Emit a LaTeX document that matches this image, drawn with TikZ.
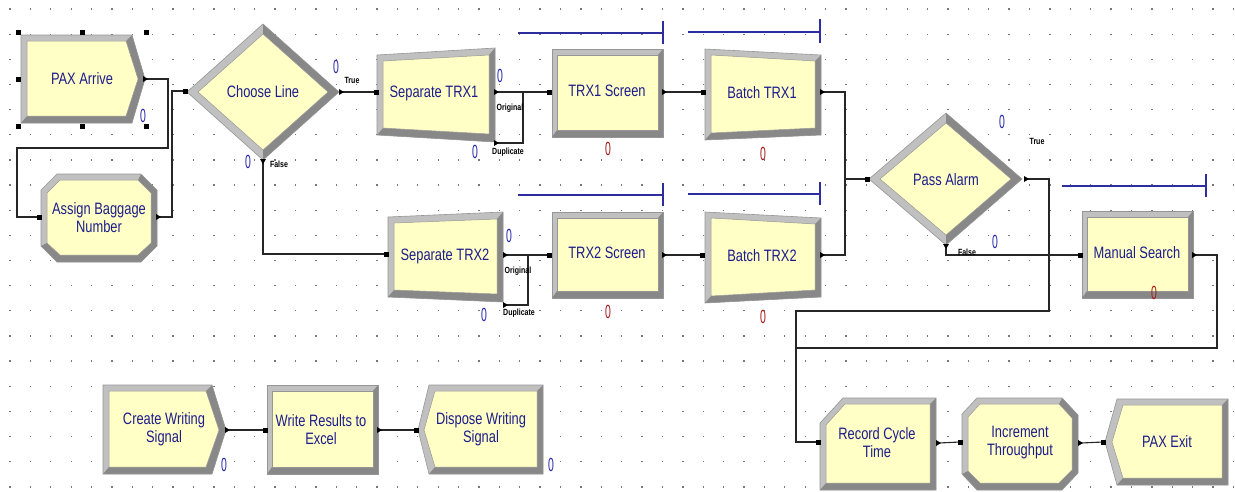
\documentclass[tikz,border=0pt]{standalone}
\usepackage{fontspec}
\setmainfont{Liberation Sans}
\newfontfamily\arenaf[FakeStretch=0.78]{Liberation Sans}
\newfontfamily\cntf[FakeStretch=0.55]{Liberation Sans}
\newfontfamily\smallf[FakeStretch=0.78]{Liberation Sans}
\definecolor{modY}{RGB}{255,255,198}
\definecolor{bevL}{RGB}{192,192,192}
\definecolor{bevD}{RGB}{136,136,136}
\definecolor{edgeC}{RGB}{150,150,150}
\definecolor{txtB}{RGB}{28,28,140}
\definecolor{cntBlue}{RGB}{40,40,170}
\definecolor{cntRed}{RGB}{165,25,25}
\definecolor{qline}{RGB}{45,45,160}
\definecolor{dotc}{RGB}{120,120,120}
\tikzset{
  modtext/.style={text=txtB, font=\arenaf\fontsize{16.5}{18}\selectfont, align=center, inner sep=0pt},
  cntblue/.style={text=cntBlue, font=\cntf\fontsize{19}{19}\selectfont, inner sep=0pt},
  cntred/.style={text=cntRed, font=\cntf\fontsize{19}{19}\selectfont, inner sep=0pt},
  portlbl/.style={text=black, font=\smallf\bfseries\fontsize{9}{9}\selectfont, inner sep=0pt},
  conn/.style={line width=1.1pt, draw=black!85},
  queue/.style={line width=1.3pt, draw=qline},
}
\newcommand\bevpoly[3]{%
  \fill[bevL] #1 -- cycle;
  \fill[bevD] #2 -- cycle;
  \filldraw[fill=modY,draw=edgeC,line width=0.5pt] #3 -- cycle;
  \draw[edgeC,line width=0.6pt] #1 -- cycle;}
\newcommand\procbox[4]{%
  \fill[bevL] (#1,#2) rectangle (#3,#4);
  \fill[bevD] (#1,#4) -- (#3,#4) -- (#3,#2) -- ({#3-5},{#2+6}) -- ({#3-5},{#4-7}) -- ({#1+5},{#4-7}) -- cycle;
  \filldraw[fill=modY,draw=edgeC,line width=0.5pt] ({#1+5},{#2+6}) rectangle ({#3-5},{#4-7});
  \draw[edgeC,line width=0.6pt] (#1,#2) rectangle (#3,#4);}
\newcommand\entrymark[1]{\fill[black,shift={(#1)}] (-2.5,-2.5) rectangle (2.5,2.5);}
\newcommand\exitR[1]{\fill[black,shift={(#1)}] (-3,-3) -- (2,0) -- (-3,3) -- cycle;}
\newcommand\exitD[1]{\fill[black,shift={(#1)}] (-3,-3) -- (0,2) -- (3,-3) -- cycle;}
\newcommand\handle[2]{\fill[black] ({#1-2.5},{#2-2.5}) rectangle ++(5,5);}
\begin{document}
\begin{tikzpicture}[x=1pt,y=-1pt]
\useasboundingbox (0,0) rectangle (1235,491);
\fill[white] (0,0) rectangle (1235,491);
% grid dots
\foreach \i in {0,...,60}{\foreach \j in {0,...,19}{
  \fill[dotc] ({10+20.39*\i-0.65},{9+25.15*\j-0.65}) rectangle ++(1.3,1.3);}}

% ---------- modules ----------
% PAX Arrive (create)
\bevpoly{(21,35) -- (132,35) -- (145,79) -- (132,123) -- (21,123)}
        {(21,123) -- (132,123) -- (145,79) -- (132,35) -- (126,41) -- (138,79) -- (126,116) -- (27,116)}
        {(27,41) -- (126,41) -- (138,79) -- (126,116) -- (27,116)}
\node[modtext] (paxarrive) at (82,79) {PAX Arrive};
\handle{18}{32}\handle{82}{32}\handle{146}{32}\handle{18}{79}
\handle{18}{126}\handle{82}{126}\handle{146}{126}

% Assign Baggage Number
\bevpoly{(57,174) -- (141,174) -- (157,190) -- (157,246) -- (141,262) -- (57,262) -- (41,246) -- (41,190)}
        {(141,174) -- (157,190) -- (157,246) -- (141,262) -- (57,262) -- (41,246) -- (47,243) -- (60,255) -- (138,255) -- (151,243) -- (151,193) -- (138,180)}
        {(60,180) -- (138,180) -- (151,193) -- (151,243) -- (138,255) -- (60,255) -- (47,243) -- (47,193)}
\node[modtext] (assign) at (99,218) {Assign Baggage\\Number};

% Choose Line (decide)
\bevpoly{(187,92) -- (263,24) -- (339,92) -- (263,160)}
        {(263,24) -- (339,92) -- (263,160) -- (263,150) -- (328,92) -- (263,34)}
        {(198,92) -- (263,34) -- (328,92) -- (263,150)}
\node[modtext] (choose) at (263,92) {Choose Line};

% Separate TRX1
\bevpoly{(377,55) -- (495,48) -- (495,142) -- (377,135)}
        {(377,135) -- (495,142) -- (495,48) -- (489,55) -- (489,134) -- (383,128)}
        {(383,61) -- (489,55) -- (489,134) -- (383,128)}
\node[modtext] (sep1) at (434,93) {Separate TRX1};

% TRX1 Screen
\procbox{552}{49}{663}{137}
\node[modtext] (scr1) at (607,91) {TRX1 Screen};

% Batch TRX1
\bevpoly{(705,49) -- (821,55) -- (821,135) -- (705,140)}
        {(705,140) -- (821,135) -- (821,55) -- (815,61) -- (815,128) -- (711,133)}
        {(711,55) -- (815,61) -- (815,128) -- (711,133)}
\node[modtext] (bat1) at (762,93) {Batch TRX1};

% Separate TRX2
\bevpoly{(388,217) -- (503,212) -- (503,302) -- (388,297)}
        {(388,297) -- (503,302) -- (503,212) -- (497,219) -- (497,294) -- (394,290)}
        {(394,223) -- (497,219) -- (497,294) -- (394,290)}
\node[modtext] (sep2) at (445,256) {Separate TRX2};

% TRX2 Screen
\procbox{552}{212}{663}{298}
\node[modtext] (scr2) at (607,253) {TRX2 Screen};

% Batch TRX2
\bevpoly{(705,212) -- (821,218) -- (821,297) -- (705,303)}
        {(705,303) -- (821,297) -- (821,218) -- (815,224) -- (815,290) -- (711,296)}
        {(711,218) -- (815,224) -- (815,290) -- (711,296)}
\node[modtext] (bat2) at (762,256) {Batch TRX2};

% Pass Alarm (decide)
\bevpoly{(869,179) -- (946,113) -- (1022,179) -- (946,245)}
        {(946,113) -- (1022,179) -- (946,245) -- (946,235) -- (1011,179) -- (946,123)}
        {(880,179) -- (946,123) -- (1011,179) -- (946,235)}
\node[modtext] (pass) at (946,180) {Pass Alarm};

% Manual Search
\procbox{1082}{211}{1193}{298}
\node[modtext] (manual) at (1137,253) {Manual Search};

% Record Cycle Time
\bevpoly{(820,423) -- (843,398) -- (936,398) -- (936,490) -- (820,490)}
        {(820,490) -- (936,490) -- (936,398) -- (930,404) -- (930,483) -- (826,483)}
        {(826,425) -- (845,404) -- (930,404) -- (930,483) -- (826,483)}
\node[modtext] (record) at (877,443) {Record Cycle\\Time};

% Increment Throughput
\bevpoly{(977,398) -- (1062,398) -- (1078,415) -- (1078,473) -- (1062,490) -- (977,490) -- (962,474) -- (962,414)}
        {(1062,398) -- (1078,415) -- (1078,473) -- (1062,490) -- (977,490) -- (962,474) -- (968,471) -- (980,483) -- (1059,483) -- (1072,470) -- (1072,418) -- (1059,404)}
        {(980,404) -- (1059,404) -- (1072,418) -- (1072,470) -- (1059,483) -- (980,483) -- (968,471) -- (968,417)}
\node[modtext] (incr) at (1020,443) {Increment\\Throughput};

% PAX Exit (dispose)
\bevpoly{(1117,399) -- (1228,399) -- (1228,485) -- (1117,485) -- (1105,442)}
        {(1117,485) -- (1228,485) -- (1228,399) -- (1222,405) -- (1222,478) -- (1123,478)}
        {(1123,405) -- (1222,405) -- (1222,478) -- (1123,478) -- (1112,442)}
\node[modtext] (paxexit) at (1167,442) {PAX Exit};

% Create Writing Signal
\bevpoly{(103,385) -- (212,385) -- (226,430) -- (212,474) -- (103,474)}
        {(103,474) -- (212,474) -- (226,430) -- (212,385) -- (206,391) -- (219,430) -- (206,467) -- (109,467)}
        {(109,391) -- (206,391) -- (219,430) -- (206,467) -- (109,467)}
\node[modtext] (createw) at (164,429) {Create Writing\\Signal};

% Write Results to Excel
\procbox{267}{385}{378}{474}
\node[modtext] (writer) at (321,430) {Write Results to\\Excel};

% Dispose Writing Signal
\bevpoly{(429,385) -- (543,385) -- (543,474) -- (429,474) -- (418,430)}
        {(429,474) -- (543,474) -- (543,385) -- (537,391) -- (537,467) -- (435,467)}
        {(435,391) -- (537,391) -- (537,467) -- (435,467) -- (424,430)}
\node[modtext] (disposew) at (481,429) {Dispose Writing\\Signal};

% ---------- ports ----------
\coordinate (pa-out) at (146,79);
\coordinate (ab-in) at (39,217);  \coordinate (ab-out) at (159,217);
\coordinate (cl-in) at (185,91);  \coordinate (cl-t) at (342,92); \coordinate (cl-f) at (263,162);
\coordinate (s1-in) at (376,92);  \coordinate (s1-o) at (497,92); \coordinate (s1-d) at (497,143);
\coordinate (c1-in) at (549,92);  \coordinate (c1-out) at (665,92);
\coordinate (b1-in) at (703,92);  \coordinate (b1-out) at (823,92);
\coordinate (s2-in) at (386,254); \coordinate (s2-o) at (506,255); \coordinate (s2-d) at (506,305);
\coordinate (c2-in) at (549,255); \coordinate (c2-out) at (665,255);
\coordinate (b2-in) at (702,255); \coordinate (b2-out) at (823,255);
\coordinate (pa-in) at (867,179); \coordinate (pa-t) at (1027,179); \coordinate (pa-f) at (946,247);
\coordinate (ms-in) at (1080,255); \coordinate (ms-out) at (1195,255);
\coordinate (rc-in) at (818,442); \coordinate (rc-out) at (939,443);
\coordinate (it-in) at (960,442); \coordinate (it-out) at (1081,443);
\coordinate (px-in) at (1103,442);
\coordinate (cw-out) at (228,430); \coordinate (wr-in) at (265,430);
\coordinate (wr-out) at (380,430); \coordinate (dw-in) at (416,430);

% ---------- connectors ----------
\draw[conn] (pa-out) -- ++(22,0) -- ++(0,69) -- ++(-151,0) |- (ab-in);
\draw[conn] (ab-out) -- ++(13,0) |- (cl-in);
\draw[conn] (cl-t) -- (s1-in);
\draw[conn] (cl-f) |- (s2-in);
\draw[conn] (s1-o) -- (c1-in);
\draw[conn] (s1-d) -- ++(26,0) |- (s1-o);
\draw[conn] (c1-out) -- (b1-in);
\draw[conn] (b1-out) -- ++(22,0) |- (pa-in);
\draw[conn] (s2-o) -- (c2-in);
\draw[conn] (s2-d) -- ++(22,0) |- (s2-o);
\draw[conn] (c2-out) -- (b2-in);
\draw[conn] (b2-out) -- ++(22,0) |- (pa-in);
\draw[conn] (pa-t) -- ++(22,0) -- ++(0,132) -- ++(-253,0) |- (rc-in);
\draw[conn] (pa-f) |- (ms-in);
\draw[conn] (ms-out) -- ++(22,0) -- ++(0,93) -- ++(-421,0);
\draw[conn] (rc-out) -- (it-in);
\draw[conn] (it-out) -- (px-in);
\draw[conn] (cw-out) -- (wr-in);
\draw[conn] (wr-out) -- (dw-in);

% port marks
\foreach \p in {ab-in,cl-in,s1-in,c1-in,b1-in,s2-in,c2-in,b2-in,pa-in,ms-in,rc-in,it-in,px-in,wr-in,dw-in}{\entrymark{\p}}
\foreach \p in {pa-out,ab-out,cl-t,s1-o,s1-d,c1-out,b1-out,s2-o,s2-d,c2-out,b2-out,pa-t,ms-out,rc-out,it-out,cw-out,wr-out}{\exitR{\p}}
\exitD{cl-f}\exitD{pa-f}

% ---------- queues ----------
\draw[queue] (518,33) -- (663,33); \draw[queue] (663,21) -- (663,44);
\draw[queue] (688,32) -- (820,32); \draw[queue] (820,19) -- (820,43);
\draw[queue] (518,195) -- (663,195); \draw[queue] (663,183) -- (663,206);
\draw[queue] (688,194) -- (820,194); \draw[queue] (820,182) -- (820,205);
\draw[queue] (1062,186) -- (1206,186); \draw[queue] (1206,174) -- (1206,197);

% ---------- port labels ----------
\node[portlbl] (lt1) at (352,80) {True};
\node[portlbl] (lf1) at (279,164) {False};
\node[portlbl] (lo1) at (510,108) {Original};
\node[portlbl] (ld1) at (508,152) {Duplicate};
\node[portlbl] (lo2) at (518,271) {Original};
\node[portlbl] (ld2) at (519,313) {Duplicate};
\node[portlbl] (lt2) at (1037,141) {True};
\node[portlbl] (lf2) at (967,252) {False};

% ---------- counters ----------
\node[cntblue] (k1) at (143,116) {0};
\node[cntblue] (k2) at (336,67) {0};
\node[cntblue] (k3) at (248,162) {0};
\node[cntblue] (k4) at (500,76) {0};
\node[cntblue] (k5) at (475,152) {0};
\node[cntblue] (k6) at (509,236) {0};
\node[cntblue] (k7) at (484,315) {0};
\node[cntblue] (k8) at (1002,122) {0};
\node[cntblue] (k9) at (995,242) {0};
\node[cntblue] (k10) at (224,465) {0};
\node[cntblue] (k11) at (551,465) {0};
\node[cntred] (r1) at (608,149) {0};
\node[cntred] (r2) at (763,154) {0};
\node[cntred] (r3) at (608,312) {0};
\node[cntred] (r4) at (763,317) {0};
\node[cntred] (r5) at (1154,293) {0};
\end{tikzpicture}
\end{document}
